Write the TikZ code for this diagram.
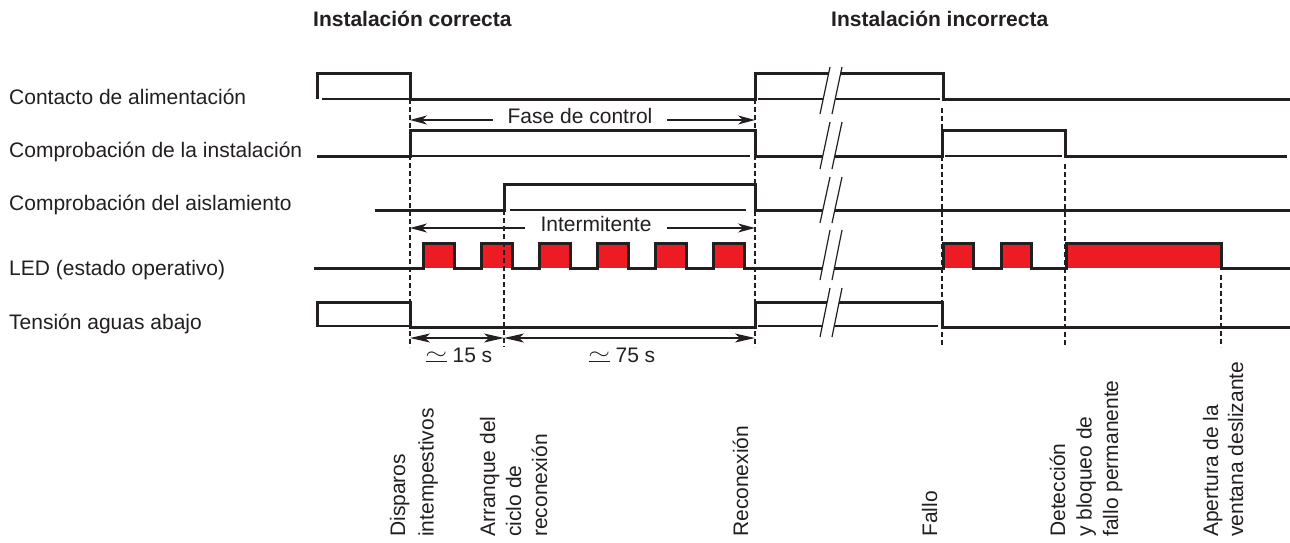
\documentclass[tikz,border=0pt]{standalone}
\usepackage{fontspec}
\usepackage{graphicx}
\setmainfont{Liberation Sans}
\usetikzlibrary{arrows.meta}
\definecolor{ink}{HTML}{231F20}
\definecolor{ledred}{HTML}{ED1C24}
\newcommand\apxsym{\rlap{\rule{21pt}{1.2pt}}\makebox[21pt]{\raisebox{2.5pt}{\scalebox{1.35}[1]{$\sim$}}}}
\begin{document}
\begin{tikzpicture}[x=1pt,y=-1pt,
  sig/.style={draw=ink,line width=3pt,line join=miter,line cap=butt},
  thinbase/.style={draw=ink,line width=1.2pt},
  guide/.style={draw=ink,line width=1.1pt,dash pattern=on 5pt off 3pt},
  arrF/.style={draw=ink,line width=1.2pt,-{Stealth[length=17pt,width=9pt,inset=5pt]}},
  arrD/.style={draw=ink,line width=1.2pt,{Stealth[length=20pt,width=9pt,inset=5pt]}-{Stealth[length=20pt,width=9pt,inset=5pt]}},
  lbl/.style={font=\fontsize{21}{26}\selectfont,inner sep=0pt,text=ink},
  rowlbl/.style={lbl,anchor=base west},
  ttl/.style={font=\fontsize{21}{26}\selectfont\bfseries,inner sep=0pt,anchor=base west,text=ink},
  vlbl/.style={lbl,rotate=90,anchor=base west},
  brkline/.style={draw=ink,line width=1.2pt},
]
\fill[white] (0,0) rectangle (1290,542);
\useasboundingbox (0,0) rectangle (1290,542);

% titles
\node[ttl] (t1) at (313,26.5) {Instalación correcta};
\node[ttl] (t2) at (831,26.5) {Instalación incorrecta};

% row labels
\node[rowlbl] (l1) at (9,104) {Contacto de alimentación};
\node[rowlbl] (l2) at (9,157) {Comprobación de la instalación};
\node[rowlbl] (l3) at (9,210) {Comprobación del aislamiento};
\node[rowlbl] (l4) at (9,275) {LED (estado operativo)};
\node[rowlbl] (l5) at (9,329) {Tensión aguas abajo};

% red LED fills
\foreach \k in {0,...,5}{
  \fill[ledred] ({423+58*\k},243) rectangle ({454+58*\k},268);
}
\fill[ledred] (943,243) rectangle (973,268);
\fill[ledred] (1001,243) rectangle (1031,268);
\fill[ledred] (1066,243) rectangle (1221,268);

% dashed guides
\draw[guide] (410,99) -- (410,347);
\draw[guide] (504,210) -- (504,347);
\draw[guide] (755,99) -- (755,347);
\draw[guide] (942,108) -- (942,347);
\draw[guide] (1065,164) -- (1065,347);
\draw[guide] (1221,275) -- (1221,347);

% thin baselines under high levels
\draw[thinbase] (322,99) -- (410,99);
\draw[thinbase] (758,99) -- (940,99);
\draw[thinbase] (412,156) -- (750,156);
\draw[thinbase] (945,156) -- (1062,156);
\draw[thinbase] (510,210) -- (746,210);
\draw[thinbase] (319,326) -- (410,326);
\draw[thinbase] (758,326) -- (938,326);

% signals
\draw[sig] (317,99) -- (317,73.5) -- (410,73.5) -- (410,99) -- (755,99) -- (755,73.5) -- (943,73.5) -- (943,99) -- (1290,99);
\draw[sig] (317,156) -- (410,156) -- (410,130) -- (755,130) -- (755,156) -- (942,156) -- (942,130) -- (1065,130) -- (1065,156) -- (1287,156);
\draw[sig] (375,210) -- (504,210) -- (504,184) -- (755,184) -- (755,210) -- (1290,210);
\draw[sig] (314,268) foreach \k in {0,...,5}{ -- ({423+58*\k},268) -- ({423+58*\k},243) -- ({454+58*\k},243) -- ({454+58*\k},268) }
  -- (943,268) -- (943,243) -- (973,243) -- (973,268) -- (1001,268) -- (1001,243) -- (1031,243) -- (1031,268)
  -- (1066,268) -- (1066,243) -- (1221,243) -- (1221,268) -- (1290,268);
\draw[sig] (317,327) -- (317,302) -- (410,302) -- (410,327) -- (755,327) -- (755,302) -- (942,302) -- (942,327) -- (1290,327);

% break marks
\foreach \yt/\yb in {67/114,122/169,177/223,230/280,288/337}{
  \fill[white] (820,\yb) -- (830,\yt) -- (842,\yt) -- (832,\yb) -- cycle;
  \draw[brkline] (820,\yb) -- (830,\yt) (832,\yb) -- (842,\yt);
}

% Fase de control
\coordinate (fL) at (410,120);
\coordinate (fR) at (755,120);
\node[lbl,anchor=base,inner xsep=14.5pt] (fase) at (580,123.5) {Fase de control};
\draw[arrF] (fase.west |- fL) -- (fL);
\draw[arrF] (fase.east |- fR) -- (fR);

% Intermitente
\coordinate (iL) at (410,228);
\coordinate (iR) at (755,228);
\node[lbl,anchor=base,inner xsep=15pt] (interm) at (596,231) {Intermitente};
\draw[arrF] (interm.west |- iL) -- (iL);
\draw[arrF] (interm.east |- iR) -- (iR);

% durations
\coordinate (d1) at (410,338);
\coordinate (d2) at (504,338);
\coordinate (d3) at (755,338);
\draw[arrD] (d1) -- (d2);
\draw[arrD] (d2) -- (d3);
\node[lbl,anchor=base] (t15) at (459,362) {\apxsym\ 15 s};
\node[lbl,anchor=base] (t75) at (622,362) {\apxsym\ 75 s};

% event labels
\node[vlbl] (e1a) at (405,537) {Disparos};
\node[vlbl] (e1b) at (433.5,537) {intempestivos};
\node[vlbl] (e2a) at (495,537) {Arranque del};
\node[vlbl] (e2b) at (521,537) {ciclo de};
\node[vlbl] (e2c) at (547,537) {reconexión};
\node[vlbl] (e3) at (748,537) {Reconexión};
\node[vlbl] (e4) at (937,537) {Fallo};
\node[vlbl] (e5a) at (1065,537) {Detección};
\node[vlbl] (e5b) at (1091.5,537) {y bloqueo de};
\node[vlbl] (e5c) at (1118,537) {fallo permanente};
\node[vlbl] (e6a) at (1218,537) {Apertura de la};
\node[vlbl] (e6b) at (1243,537) {ventana deslizante};
\end{tikzpicture}
\end{document}
